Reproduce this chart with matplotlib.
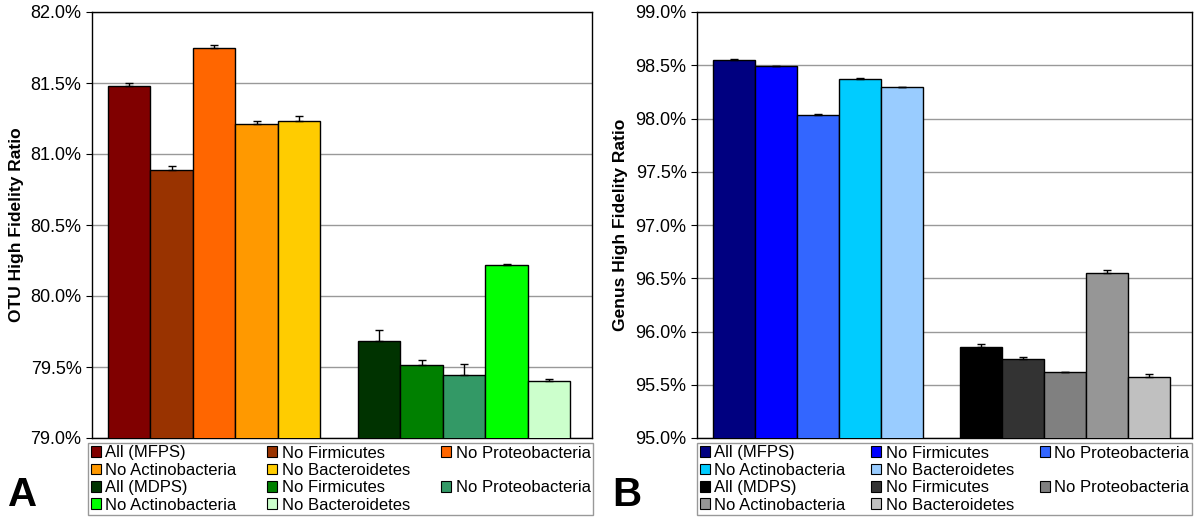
import numpy as np
import matplotlib.pyplot as plt
from matplotlib.patches import Patch
from matplotlib.ticker import PercentFormatter, MultipleLocator

plt.rcParams["font.family"] = ["Liberation Sans", "DejaVu Sans"]

series = ["All (MFPS)", "No Firmicutes", "No Proteobacteria", "No Actinobacteria", "No Bacteroidetes"]
series2 = ["All (MDPS)", "No Firmicutes", "No Proteobacteria", "No Actinobacteria", "No Bacteroidetes"]

# OTU panel (percent)
otu_mfps = [81.48, 80.89, 81.75, 81.21, 81.23]
otu_mfps_err = [0.02, 0.028, 0.019, 0.02, 0.04]
otu_mdps = [79.685, 79.515, 79.445, 80.22, 79.40]
otu_mdps_err = [0.077, 0.033, 0.079, 0.003, 0.014]

# Genus panel (percent)
gen_mfps = [98.547, 98.49, 98.035, 98.37, 98.293]
gen_mfps_err = [0.008, 0.005, 0.005, 0.01, 0.006]
gen_mdps = [95.85, 95.745, 95.617, 96.547, 95.577]
gen_mdps_err = [0.037, 0.02, 0.006, 0.03, 0.028]

otu_colors1 = ["#800000", "#993300", "#FF6600", "#FF9900", "#FFCC00"]
otu_colors2 = ["#003300", "#008000", "#339966", "#00FF00", "#CCFFCC"]
gen_colors1 = ["#000080", "#0000FF", "#3366FF", "#00CCFF", "#99CCFF"]
gen_colors2 = ["#000000", "#333333", "#808080", "#969696", "#C0C0C0"]

fig = plt.figure(figsize=(12, 5.2), dpi=100)

W, H = 1200, 520


def panel(rect, v1, e1, v2, e2, c1, c2, ylim, ylabel, letter, leg_rect, letter_x):
    ax = fig.add_axes(rect)
    width = 0.17
    offs = (np.arange(5) - 2) * width
    for i in range(5):
        ax.bar(0 + offs[i], v1[i], width, color=c1[i], edgecolor="black", linewidth=1, zorder=3)
        ax.errorbar(0 + offs[i], v1[i], yerr=[[0], [e1[i]]], fmt="none", ecolor="black",
                    elinewidth=1, capsize=3, capthick=1, zorder=4)
        ax.bar(1 + offs[i], v2[i], width, color=c2[i], edgecolor="black", linewidth=1, zorder=3)
        ax.errorbar(1 + offs[i], v2[i], yerr=[[0], [e2[i]]], fmt="none", ecolor="black",
                    elinewidth=1, capsize=3, capthick=1, zorder=4)
    ax.set_xlim(-0.488, 1.512)
    ax.set_ylim(*ylim)
    ax.yaxis.set_major_locator(MultipleLocator(0.5))
    ax.yaxis.set_major_formatter(PercentFormatter(decimals=1))
    ax.set_xticks([])
    ax.tick_params(axis="y", direction="out", length=4, labelsize=13)
    ax.grid(axis="y", color="#999999", linewidth=1, zorder=0)
    for s in ax.spines.values():
        s.set_linewidth(1)
        s.set_color("black")
    ax.set_ylabel(ylabel, fontsize=12.5, fontweight="bold", labelpad=5)

    handles = []
    labels = []
    blank = Patch(facecolor="none", edgecolor="none")
    # column-wise layout to reproduce the row order of the reference legend
    col1 = [(c1[0], series[0]), (c1[3], series[3]), (c2[0], series2[0]), (c2[3], series2[3])]
    col2 = [(c1[1], series[1]), (c1[4], series[4]), (c2[1], series2[1]), (c2[4], series2[4])]
    col3 = [(c1[2], series[2]), None, (c2[2], series2[2]), None]
    for col in (col1, col2, col3):
        for item in col:
            if item is None:
                handles.append(blank)
                labels.append("")
            else:
                handles.append(Patch(facecolor=item[0], edgecolor="black", linewidth=0.8))
                labels.append(item[1])
    fig.legend(handles, labels, ncol=3, loc="upper left", bbox_to_anchor=leg_rect,
               mode="expand", fontsize=12, frameon=True, fancybox=False, edgecolor="#808080",
               handlelength=0.6, handleheight=0.6, handletextpad=0.25, labelspacing=0.14,
               borderpad=0.15, columnspacing=0.4, borderaxespad=0)
    fig.text(letter_x, 1 - 495 / H, letter, fontsize=29, fontweight="bold", va="center", ha="left")
    return ax


panel([92 / W, 1 - 438 / H, 500 / W, 426 / H], otu_mfps, otu_mfps_err, otu_mdps, otu_mdps_err,
      otu_colors1, otu_colors2, (79.0, 82.0), "OTU High Fidelity Ratio", "A",
      (88 / W, 1 - 443 / H, 505 / W, 0), 8 / W)
panel([697 / W, 1 - 438 / H, 495 / W, 426 / H], gen_mfps, gen_mfps_err, gen_mdps, gen_mdps_err,
      gen_colors1, gen_colors2, (95.0, 99.0), "Genus High Fidelity Ratio", "B",
      (697 / W, 1 - 443 / H, 495 / W, 0), 612 / W)

fig.savefig("out.png", dpi=100)
